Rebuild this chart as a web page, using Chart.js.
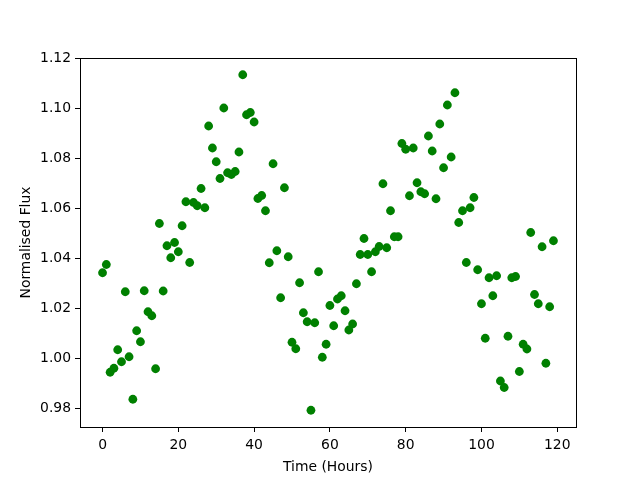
<!DOCTYPE html>
<html>
<head>
<meta charset="utf-8">
<title>Normalised Flux</title>
<script src="https://cdn.jsdelivr.net/npm/chart.js@4"></script>
<style>
  html, body { margin: 0; padding: 0; background: #fff; }
  #wrap { width: 640px; height: 480px; }
</style>
</head>
<body>
<div id="wrap"><canvas id="chart" width="640" height="480"></canvas></div>
<script>
/* global Chart */
// one reading per hour, 0..119
const hours = Array.from({ length: 120 }, (_, i) => i);
const flux = [
  1.0341, 1.0374, 0.9943, 0.9959, 1.0033, 0.9985, 1.0265, 1.0005, 0.9835, 1.0109,
  1.0065, 1.0269, 1.0185, 1.0169, 0.9957, 1.0538, 1.0268, 1.0449, 1.0401, 1.0462,
  1.0425, 1.0529, 1.0625, 1.0382, 1.0622, 1.0609, 1.0678, 1.0601, 1.0928, 1.0840,
  1.0785, 1.0718, 1.1000, 1.0741, 1.0734, 1.0746, 1.0824, 1.1133, 1.0973, 1.0982,
  1.0944, 1.0638, 1.0650, 1.0589, 1.0381, 1.0777, 1.0429, 1.0241, 1.0681, 1.0405,
  1.0063, 1.0037, 1.0301, 1.0181, 1.0145, 0.9791, 1.0141, 1.0345, 1.0003, 1.0055,
  1.0210, 1.0129, 1.0236, 1.0249, 1.0189, 1.0112, 1.0136, 1.0297, 1.0414, 1.0478,
  1.0414, 1.0345, 1.0425, 1.0446, 1.0697, 1.0441, 1.0589, 1.0485, 1.0485, 1.0858,
  1.0835, 1.0649, 1.0840, 1.0701, 1.0665, 1.0657, 1.0888, 1.0828, 1.0637, 1.0936,
  1.0761, 1.1012, 1.0804, 1.1061, 1.0542, 1.0589, 1.0382, 1.0601, 1.0642, 1.0353,
  1.0217, 1.0079, 1.0321, 1.0249, 1.0329, 0.9908, 0.9882, 1.0087, 1.0321, 1.0326,
  0.9946, 1.0055, 1.0036, 1.0502, 1.0254, 1.0217, 1.0445, 0.9979, 1.0205, 1.0469
];
const xTicks = [0, 20, 40, 60, 80, 100, 120];
const yTicks = [0.98, 1.00, 1.02, 1.04, 1.06, 1.08, 1.10, 1.12];

const FONT = { family: "'DejaVu Sans', sans-serif", size: 13.9 };

// matplotlib-style box round the axes
const frame = {
  id: "frame",
  afterDraw(c) {
    const a = c.chartArea;
    const ctx = c.ctx;
    ctx.save();
    ctx.strokeStyle = "#000";
    ctx.lineWidth = 1;
    ctx.strokeRect(Math.round(a.left) + 0.5, Math.round(a.top) + 0.5,
      Math.round(a.right - a.left), Math.round(a.bottom - a.top));
    ctx.restore();
  }
};

const axisGrid = {
  display: true, drawOnChartArea: false, drawTicks: true,
  tickLength: 5, tickColor: "#000", color: "#000"
};

new Chart(document.getElementById("chart"), {
  type: "scatter",
  data: {
    datasets: [{
      data: hours.map((h, i) => ({ x: h, y: flux[i] })),
      backgroundColor: "#008000",
      borderColor: "#008000",
      borderWidth: 0,
      pointRadius: 4.4,
      pointHoverRadius: 4.4
    }]
  },
  options: {
    responsive: false,
    animation: false,
    layout: { padding: { top: 58, right: 64, left: 0, bottom: 0 } },
    plugins: { legend: { display: false }, tooltip: { enabled: false } },
    scales: {
      x: {
        type: "linear",
        min: -5.95,
        max: 124.95,
        afterBuildTicks: (s) => { s.ticks = xTicks.map((v) => ({ value: v })); },
        afterFit: (s) => { s.height = 53; },
        grid: axisGrid,
        border: { display: true, color: "#000", width: 1 },
        ticks: { color: "#000", font: FONT, padding: 5, maxRotation: 0 },
        title: { display: true, text: "Time (Hours)", color: "#000", font: FONT, padding: { top: 11 } }
      },
      y: {
        type: "linear",
        min: 0.9724,
        max: 1.1200,
        afterBuildTicks: (s) => { s.ticks = yTicks.map((v) => ({ value: v })); },
        afterFit: (s) => { s.width = 80; },
        grid: axisGrid,
        border: { display: true, color: "#000", width: 1 },
        ticks: { color: "#000", font: FONT, padding: 4, callback: (v) => Number(v).toFixed(2) },
        title: { display: true, text: "Normalised Flux", color: "#000", font: FONT, padding: { top: 18 } }
      }
    }
  },
  plugins: [frame]
});
</script>
</body>
</html>
